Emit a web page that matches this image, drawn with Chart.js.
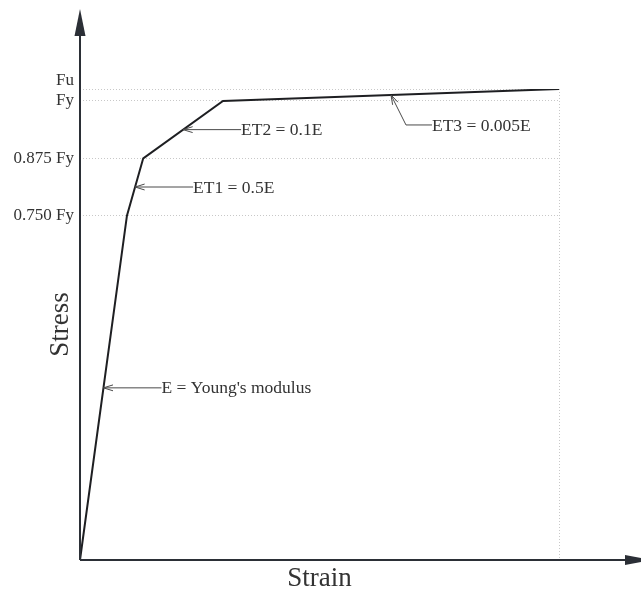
<!DOCTYPE html>
<html>
<head>
<meta charset="utf-8">
<script src="https://cdn.jsdelivr.net/npm/chart.js@4.4.1/dist/chart.umd.min.js"></script>
<style>
  body { margin: 0; background: #fff; }
</style>
</head>
<body>
<canvas id="ssChart" width="641" height="595"></canvas>
<script>
// Multilinear stress-strain curve (stress in units of Fy)
const strain = [0, 0.098, 0.132, 0.2985, 1.0];
const stress = [0, 0.75, 0.875, 1.0, 1.026];

const stressTicks = [0.75, 0.875, 1.0, 1.026];
const stressTickLabels = ['0.750 Fy', '0.875 Fy', 'Fy', 'Fu'];

// one label per segment, arrow points at the segment midpoint
const slopeLabels = ["E = Young's modulus", 'ET1 = 0.5E', 'ET2 = 0.1E', 'ET3 = 0.005E'];

const xTitle = 'Strain';
const yTitle = 'Stress';

const serif = '"Liberation Serif", "Times New Roman", serif';
const ink = '#2b2f36';
const textColor = '#333';

function openArrowHead(ctx, tipX, tipY, fromX, fromY) {
  const ang = Math.atan2(fromY - tipY, fromX - tipX);
  const len = 10, spread = 0.3;
  ctx.beginPath();
  ctx.moveTo(tipX + len * Math.cos(ang - spread), tipY + len * Math.sin(ang - spread));
  ctx.lineTo(tipX, tipY);
  ctx.lineTo(tipX + len * Math.cos(ang + spread), tipY + len * Math.sin(ang + spread));
  ctx.stroke();
}

const overlay = {
  id: 'overlay',
  afterDatasetsDraw(chart) {
    const { ctx, chartArea: a, scales: { x, y } } = chart;
    ctx.save();

    // axes with filled arrowheads
    ctx.strokeStyle = ink;
    ctx.fillStyle = ink;
    ctx.lineWidth = 2;
    const ox = a.left, oy = a.bottom;
    const yTip = a.top - 80, xTip = a.right + 93;
    ctx.beginPath();
    ctx.moveTo(ox, oy);
    ctx.lineTo(ox, yTip + 27);
    ctx.moveTo(ox, oy);
    ctx.lineTo(xTip - 27, oy);
    ctx.stroke();
    ctx.beginPath();
    ctx.moveTo(ox, yTip);
    ctx.lineTo(ox - 5.5, yTip + 27);
    ctx.lineTo(ox + 5.5, yTip + 27);
    ctx.closePath();
    ctx.fill();
    ctx.beginPath();
    ctx.moveTo(xTip, oy);
    ctx.lineTo(xTip - 27, oy - 5);
    ctx.lineTo(xTip - 27, oy + 5);
    ctx.closePath();
    ctx.fill();

    // slope callouts
    ctx.strokeStyle = '#4a4a4a';
    ctx.lineWidth = 1;
    ctx.fillStyle = textColor;
    ctx.font = '17.5px ' + serif;
    ctx.textAlign = 'left';
    ctx.textBaseline = 'middle';
    slopeLabels.forEach((label, i) => {
      const tx = x.getPixelForValue((strain[i] + strain[i + 1]) / 2);
      const ty = y.getPixelForValue((stress[i] + stress[i + 1]) / 2);
      const path = i === 3
        ? [[tx, ty], [tx + 15, ty + 30], [tx + 41, ty + 30]]
        : [[tx, ty], [tx + 58, ty]];
      ctx.beginPath();
      path.forEach(([px, py], k) => (k ? ctx.lineTo(px, py) : ctx.moveTo(px, py)));
      ctx.stroke();
      openArrowHead(ctx, tx, ty, path[1][0], path[1][1]);
      const end = path[path.length - 1];
      ctx.fillText(label, end[0], end[1] + 1);
    });

    // axis titles
    ctx.font = '27px ' + serif;
    ctx.textAlign = 'center';
    ctx.fillText(xTitle, (a.left + a.right) / 2, a.bottom + 19);
    ctx.translate(a.left - 19, (a.top + a.bottom) / 2);
    ctx.rotate(-Math.PI / 2);
    ctx.fillText(yTitle, 0, 0);

    ctx.restore();
  }
};

new Chart(document.getElementById('ssChart'), {
  type: 'line',
  data: {
    datasets: [{
      data: strain.map((s, i) => ({ x: s, y: stress[i] })),
      borderColor: '#1e1f22',
      borderWidth: 2,
      pointRadius: 0,
      tension: 0,
      fill: false
    }]
  },
  options: {
    responsive: false,
    animation: false,
    events: [],
    layout: { padding: { top: 89, right: 82, left: 0, bottom: 0 } },
    plugins: { legend: { display: false }, tooltip: { enabled: false } },
    scales: {
      x: {
        type: 'linear',
        min: 0,
        max: strain[strain.length - 1],
        afterBuildTicks: s => { s.ticks = [{ value: strain[strain.length - 1] }]; },
        afterFit: s => { s.height = 35; },
        ticks: { display: false },
        grid: { color: '#c8c8c8', lineWidth: 1, drawTicks: false },
        border: { display: false, dash: [1, 2] }
      },
      y: {
        type: 'linear',
        min: 0,
        max: stress[stress.length - 1],
        afterBuildTicks: s => { s.ticks = stressTicks.map(v => ({ value: v })); },
        afterFit: s => { s.width = 80; },
        ticks: {
          padding: 6,
          color: textColor,
          font: { family: serif, size: 17, lineHeight: 1 },
          // Fu sits just above Fy, so lift it with an empty second line
          callback: (v, i) => (i === stressTicks.length - 1 ? [stressTickLabels[i], ''] : stressTickLabels[i])
        },
        grid: { color: '#c8c8c8', lineWidth: 1, drawTicks: false },
        border: { display: false, dash: [1, 2] }
      }
    }
  },
  plugins: [overlay]
});
</script>
</body>
</html>
